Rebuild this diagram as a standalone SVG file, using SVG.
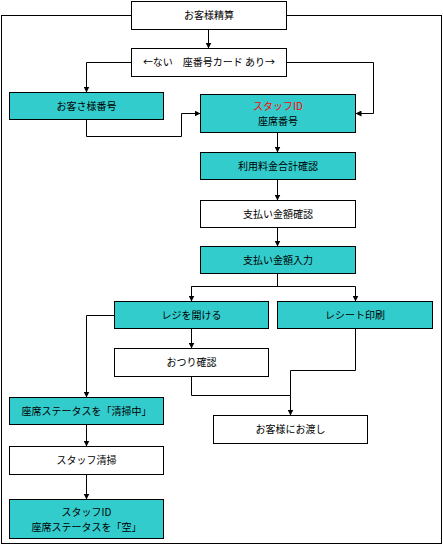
<svg xmlns="http://www.w3.org/2000/svg" width="443" height="545" viewBox="0 0 443 545">
<defs>
<style>
.box{stroke:#000;stroke-width:1}
.w{fill:#fff}
.t{fill:#33CCCC}
text{font-family:"Noto Sans CJK JP","Noto Sans",sans-serif;font-size:10px;fill:#000;text-anchor:middle}
.red{fill:#FF0000}
.c{fill:none;stroke:#000;stroke-width:1}
</style>
<marker id="ah" viewBox="0 0 6 6" refX="6" refY="3" markerWidth="6" markerHeight="6" markerUnits="userSpaceOnUse" orient="auto">
<path d="M0,0 L6,3 L0,6 Z" fill="#000"/>
</marker>
</defs>
<rect x="1.5" y="15.5" width="440" height="528" fill="#fff" stroke="#000" stroke-width="1"/>
<g id="connectors">
<path class="c" d="M208.5,29.5 V48.5" marker-end="url(#ah)"/>
<path class="c" d="M131.5,62.5 H86.5 V92.5" marker-end="url(#ah)"/>
<path class="c" d="M286.5,62.5 H373.5 V113.5 H355.5" marker-end="url(#ah)"/>
<path class="c" d="M86.5,119.5 V136.5 H181.5 V113.5 H200.5" marker-end="url(#ah)"/>
<path class="c" d="M277.5,132.5 V152.5" marker-end="url(#ah)"/>
<path class="c" d="M277.5,179.5 V200.5" marker-end="url(#ah)"/>
<path class="c" d="M277.5,227.5 V246.5" marker-end="url(#ah)"/>
<path class="c" d="M277.5,273.5 V286.5"/>
<path class="c" d="M191.5,301.5 V286.5 H355.5 V301.5" marker-end="url(#ah)"/>
<path class="c" d="M191.5,286.5 V301.5" marker-end="url(#ah)"/>
<path class="c" d="M114.5,315.5 H86.5 V397.5" marker-end="url(#ah)"/>
<path class="c" d="M191.5,328.5 V348.5" marker-end="url(#ah)"/>
<path class="c" d="M191.5,376.5 V395.5 H290.5 V415.5" marker-end="url(#ah)"/>
<path class="c" d="M355.5,328.5 V370.5 H290.5 V395.5"/>
<path class="c" d="M86.5,424.5 V446.5" marker-end="url(#ah)"/>
<path class="c" d="M86.5,474.5 V499.5" marker-end="url(#ah)"/>
</g>
<g id="n1"><rect class="box w" x="131.5" y="1.5" width="155" height="28"/><text x="209" y="19">お客様精算</text></g>
<g id="n2"><rect class="box w" x="131.5" y="48.5" width="155" height="28"/><text x="209" y="66">←ない　座番号カード あり→</text></g>
<g id="n3"><rect class="box t" x="9.5" y="92.5" width="154" height="27"/><text x="86.5" y="109.5">お客さ様番号</text></g>
<g id="n4"><rect class="box t" x="200.5" y="94.5" width="155" height="38"/><text x="278" y="110" class="red">スタッフID</text><text x="278" y="124.5">座席番号</text></g>
<g id="n5"><rect class="box t" x="200.5" y="152.5" width="155" height="27"/><text x="278" y="169.5">利用料金合計確認</text></g>
<g id="n6"><rect class="box w" x="200.5" y="200.5" width="155" height="27"/><text x="278" y="217.5">支払い金額確認</text></g>
<g id="n7"><rect class="box t" x="200.5" y="246.5" width="155" height="27"/><text x="278" y="263.5">支払い金額入力</text></g>
<g id="n8"><rect class="box t" x="114.5" y="301.5" width="154" height="27"/><text x="191.5" y="318.5">レジを開ける</text></g>
<g id="n9"><rect class="box t" x="277.5" y="301.5" width="155" height="27"/><text x="355" y="318.5">レシート印刷</text></g>
<g id="n10"><rect class="box w" x="114.5" y="348.5" width="154" height="28"/><text x="191.5" y="366">おつり確認</text></g>
<g id="n11"><rect class="box t" x="9.5" y="397.5" width="154" height="27"/><text x="86.5" y="414.5">座席ステータスを「清掃中」</text></g>
<g id="n12"><rect class="box w" x="213.5" y="415.5" width="154" height="28"/><text x="290.5" y="433">お客様にお渡し</text></g>
<g id="n13"><rect class="box w" x="9.5" y="446.5" width="154" height="28"/><text x="86.5" y="464">スタッフ清掃</text></g>
<g id="n14"><rect class="box t" x="9.5" y="499.5" width="154" height="39"/><text x="86.5" y="516">スタッフID</text><text x="86.5" y="530.5">座席ステータスを「空」</text></g>
</svg>
